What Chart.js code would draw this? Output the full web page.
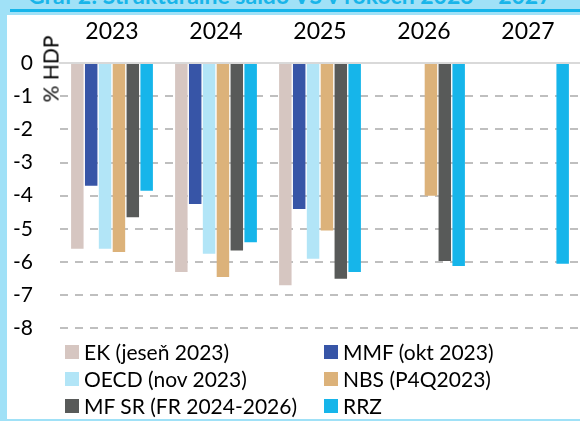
<!DOCTYPE html>
<html>
<head>
<meta charset="utf-8">
<script src="https://cdn.jsdelivr.net/npm/chart.js@4"></script>
<style>
	body {
		margin: 0;
		width: 580px;
		height: 421px;
		overflow: hidden;
		position: relative;
		background: #a0e1f7;
		font-family: Lato, 'Noto Sans', sans-serif;
	}
	#title {
		position: absolute;
		left: 28px;
		top: -19px;
		font-weight: bold;
		font-size: 23px;
		color: #19b5e9;
		white-space: nowrap;
	}
	#rule {
		position: absolute;
		left: 10px;
		top: 9px;
		width: 570px;
		height: 3px;
		background: #16b5ea;
	}
	#panel {
		position: absolute;
		left: 7px;
		top: 15px;
		width: 573px;
		height: 404px;
		background: #fff;
	}
	#chartBox {
		position: absolute;
		left: 0;
		top: 0;
		width: 573px;
		height: 353px;
	}
	#yTitle {
		position: absolute;
		left: 43px;
		top: 54px;
		font-size: 21px;
		color: #000;
		white-space: nowrap;
		transform: translate(-50%, -50%) rotate(-90deg);
	}
	#legend {
		position: absolute;
		left: 58px;
		top: 323px;
		display: grid;
		grid-template-columns: 259px 240px;
		grid-auto-rows: 27px;
		font-size: 21px;
		color: #000;
	}
	.item {
		display: flex;
		align-items: center;
		white-space: nowrap;
	}
	.box {
		width: 14px;
		height: 14px;
		margin-right: 5px;
	}
</style>
</head>
<body>
<div id="title">Graf 2: Štrukturálne saldo VS v rokoch 2023 – 2027</div>
<div id="rule"></div>
<div id="panel">
	<div id="chartBox"><canvas id="saldoChart"></canvas></div>
	<div id="yTitle">% HDP</div>
	<div id="legend"></div>
</div>
<script>
const years = ['2023', '2024', '2025', '2026', '2027'];

// structural balance, % of GDP, per forecaster
const ek = [-5.6, -6.3, -6.7, null, null];
const mmf = [-3.7, -4.25, -4.4, null, null];
const oecd = [-5.6, -5.75, -5.9, null, null];
const nbs = [-5.7, -6.45, -5.05, -4.0, null];
const mfsr = [-4.65, -5.65, -6.5, -5.97, null];
const rrz = [-3.85, -5.4, -6.3, -6.12, -6.05];

const yTicks = [0, -1, -2, -3, -4, -5, -6, -7, -8];

const data = {
	labels: years,
	datasets: [
		{ label: 'EK (jeseň 2023)', data: ek, backgroundColor: '#d6c6c1' },
		{ label: 'MMF (okt 2023)', data: mmf, backgroundColor: '#3755a7' },
		{ label: 'OECD (nov 2023)', data: oecd, backgroundColor: '#b2e5f7' },
		{ label: 'NBS (P4Q2023)', data: nbs, backgroundColor: '#dcb27a' },
		{ label: 'MF SR (FR 2024-2026)', data: mfsr, backgroundColor: '#585a59' },
		{ label: 'RRZ', data: rrz, backgroundColor: '#16b5ea' },
	],
};

const config = {
	type: 'bar',
	data: data,
	options: {
		responsive: true,
		maintainAspectRatio: false,
		animation: false,
		layout: { padding: { left: 0, right: 0, top: 0, bottom: 19 } },
		datasets: {
			bar: { categoryPercentage: 0.8, barPercentage: 0.9 },
		},
		plugins: {
			legend: { display: false },
			tooltip: { enabled: false },
		},
		scales: {
			x: {
				position: 'top',
				grid: { display: false },
				border: { display: true, color: '#d9d9d9', width: 2 },
				ticks: { font: { family: 'Lato', size: 23 }, color: '#000', padding: 10, maxRotation: 0 },
				afterFit: function (scale) { scale.height = 48; },
			},
			y: {
				min: Math.min(...yTicks),
				max: Math.max(...yTicks),
				afterBuildTicks: function (scale) {
					scale.ticks = yTicks.map(v => ({ value: v }));
				},
				grid: {
					drawTicks: false,
					lineWidth: 2,
					color: ctx => (ctx.tick && ctx.tick.value === 0 ? 'rgba(0,0,0,0)' : '#bfbfbf'),
				},
				border: { display: false, dash: [8, 7] },
				ticks: { font: { family: 'Lato', size: 21 }, color: '#000', padding: 27 },
				afterFit: function (scale) { scale.width = 53; },
			},
		},
	},
};

const saldoChart = new Chart(document.getElementById('saldoChart'), config);

// HTML legend in two columns, built from the datasets
let legend = document.getElementById('legend');
saldoChart.data.datasets.forEach(ds => {
	legend.innerHTML += `<div class="item"><span class="box" style="background:${ds.backgroundColor}"></span>${ds.label}</div>`;
});
</script>
</body>
</html>
